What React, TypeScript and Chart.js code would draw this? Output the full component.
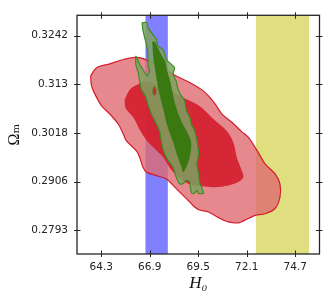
import React, { useEffect, useRef } from "react";
import { Chart, registerables } from "chart.js";

Chart.register(...registerables);

// ---- axis ranges and ticks ----
const H0_MIN = 63;
const H0_MAX = 76;
const OM_MIN = 0.2738;
const OM_MAX = 0.3289;
const xTickValues = [64.3, 66.9, 69.5, 72.1, 74.7];
const xTickLabels = ["64.3", "66.9", "69.5", "72.1", "74.7"];
const yTickValues = [0.2793, 0.29053, 0.30175, 0.31298, 0.3242];
const yTickLabels = ["0.2793", "0.2906", "0.3018", "0.313", "0.3242"];

// ---- H0 bands ----
const planckBand = [66.67, 67.87];
const shoesBand = [72.59, 75.44];

// ---- red contours ----
const redOuterH = [63.73, 64.05, 64.76, 65.48, 66.1, 66.54, 67.2, 67.74, 68.32, 69.04, 69.66, 70.05, 70.41, 70.77, 71.3, 71.84, 72.19, 72.72, 73.08, 73.62, 73.88, 73.88, 73.62, 73.08, 72.55, 72.19, 71.65, 71.12, 70.59, 70.05, 69.52, 69.22, 68.86, 68.32, 67.79, 67.26, 66.72, 66.54, 66.36, 66.19, 65.65, 65.48, 65.21, 64.76, 64.32, 63.96, 63.78];
const redOuterOm = [0.3149, 0.3168, 0.3177, 0.3187, 0.3192, 0.3189, 0.3176, 0.3163, 0.3149, 0.3134, 0.3118, 0.3103, 0.3084, 0.3061, 0.3042, 0.302, 0.3007, 0.2972, 0.2946, 0.2923, 0.29, 0.2869, 0.2843, 0.2831, 0.2827, 0.282, 0.281, 0.2812, 0.2822, 0.2835, 0.284, 0.285, 0.2866, 0.2889, 0.2911, 0.2919, 0.2927, 0.2938, 0.2961, 0.2976, 0.2999, 0.3015, 0.3038, 0.3061, 0.308, 0.3107, 0.3126];
const redInnerH = [65.56, 65.83, 66.28, 66.67, 67.2, 67.74, 68.54, 69.07, 69.66, 70.3, 71.03, 71.39, 71.57, 71.84, 71.92, 71.65, 71.12, 70.41, 69.87, 69.07, 68.54, 68.0, 67.65, 67.29, 66.76, 66.4, 66.04, 65.6];
const redInnerOm = [0.3095, 0.3118, 0.313, 0.3137, 0.313, 0.3121, 0.3102, 0.3091, 0.3077, 0.305, 0.3022, 0.2995, 0.2961, 0.293, 0.2915, 0.2904, 0.2896, 0.2892, 0.2894, 0.2898, 0.2912, 0.2935, 0.296, 0.2976, 0.2999, 0.3022, 0.3052, 0.3075];

// ---- green contours ----
const greenOuterH = [66.49, 66.76, 66.81, 67.08, 67.26, 67.35, 67.61, 67.79, 68.06, 68.23, 68.15, 68.32, 68.42, 68.59, 68.77, 68.86, 69.04, 69.13, 69.3, 69.43, 69.52, 69.43, 69.52, 69.57, 69.7, 69.78, 69.52, 69.43, 69.29, 69.16, 69.07, 69.04, 68.86, 68.68, 68.5, 68.32, 68.15, 67.79, 67.61, 67.52, 67.43, 67.26, 66.99, 66.8, 66.67, 66.45, 66.36, 66.28, 66.15, 66.16, 66.36, 66.63, 66.77, 66.88, 66.81, 66.8, 66.74, 66.63, 66.53];
const greenOuterOm = [0.3272, 0.3272, 0.326, 0.3244, 0.3233, 0.3218, 0.321, 0.3187, 0.3176, 0.3168, 0.3153, 0.3137, 0.3118, 0.3103, 0.3092, 0.3069, 0.3054, 0.3038, 0.3023, 0.2999, 0.2969, 0.2946, 0.2923, 0.2904, 0.2889, 0.2878, 0.2878, 0.2885, 0.2878, 0.2878, 0.2892, 0.2905, 0.2908, 0.29, 0.29, 0.2915, 0.2938, 0.2961, 0.298, 0.2999, 0.3022, 0.3038, 0.3061, 0.3084, 0.3102, 0.3118, 0.3137, 0.3157, 0.3176, 0.3195, 0.3176, 0.3157, 0.3149, 0.316, 0.3176, 0.3198, 0.3219, 0.3237, 0.3256];
const greenInnerH = [67.03, 67.18, 67.36, 67.58, 67.74, 67.84, 68.0, 68.11, 68.22, 68.38, 68.59, 68.81, 69.07, 69.13, 69.04, 68.86, 68.7, 68.59, 68.38, 68.16, 67.84, 67.65, 67.47, 67.29, 67.2, 67.1];
const greenInnerOm = [0.3228, 0.3228, 0.3212, 0.3194, 0.3182, 0.316, 0.3137, 0.3114, 0.3091, 0.3068, 0.3045, 0.3027, 0.3004, 0.2988, 0.2961, 0.2938, 0.2926, 0.294, 0.2965, 0.2995, 0.3034, 0.3068, 0.3098, 0.3137, 0.316, 0.3189];
const islandH = [67.06, 67.09, 67.15, 67.21, 67.24, 67.21, 67.15, 67.09];
const islandOm = [0.3114, 0.3121, 0.3124, 0.3121, 0.3114, 0.3107, 0.3104, 0.3107];

function closedPolygon(xs: number[], ys: number[]) {
  const pts = xs.map((x, i) => ({ x, y: ys[i] }));
  pts.push({ ...pts[0] });
  return pts;
}

function bandPolygon(band: number[]) {
  return closedPolygon([band[0], band[1], band[1], band[0]], [OM_MIN, OM_MIN, OM_MAX, OM_MAX]);
}

const frameTicksPlugin = {
  id: "frameTicks",
  afterDraw(chart: any) {
    const { ctx, chartArea, scales } = chart;
    const { left, right, top, bottom } = chartArea;
    const xs = scales.x;
    const ys = scales.y;
    ctx.save();
    ctx.strokeStyle = "#262626";
    ctx.lineWidth = 1.3;
    ctx.strokeRect(left, top, right - left, bottom - top);
    ctx.lineWidth = 1;
    ctx.beginPath();
    const tin = 3.5;
    const tout = 3;
    for (const v of xTickValues) {
      const p = Math.round(xs.getPixelForValue(v)) + 0.5;
      ctx.moveTo(p, bottom - tin);
      ctx.lineTo(p, bottom + tout);
      ctx.moveTo(p, top - tout);
      ctx.lineTo(p, top + tin);
    }
    for (const v of yTickValues) {
      const p = Math.round(ys.getPixelForValue(v)) + 0.5;
      ctx.moveTo(left - tout, p);
      ctx.lineTo(left + tin, p);
      ctx.moveTo(right - tin, p);
      ctx.lineTo(right + tout, p);
    }
    ctx.stroke();
    ctx.restore();
  },
};

const tickFont = { family: "'DejaVu Sans', sans-serif", size: 10.5 };

export default function App() {
  const canvasRef = useRef<HTMLCanvasElement | null>(null);

  useEffect(() => {
    const canvas = canvasRef.current;
    if (!canvas) return;
    const base = { showLine: true, pointRadius: 0, pointHoverRadius: 0, fill: "shape" };
    const chart = new Chart(canvas, {
      type: "scatter",
      data: {
        datasets: [
          { ...base, label: "Planck", data: bandPolygon(planckBand), backgroundColor: "rgba(0,0,255,0.5)", borderWidth: 0, borderColor: "rgba(0,0,0,0)", tension: 0, order: 10 },
          { ...base, label: "SH0ES", data: bandPolygon(shoesBand), backgroundColor: "rgba(191,191,0,0.5)", borderWidth: 0, borderColor: "rgba(0,0,0,0)", tension: 0, order: 10 },
          { ...base, label: "red 2σ", data: closedPolygon(redOuterH, redOuterOm), backgroundColor: "rgba(222,107,114,0.8)", borderColor: "rgb(212,28,42)", borderWidth: 1.2, tension: 0.3, order: 9 },
          { ...base, label: "red 1σ", data: closedPolygon(redInnerH, redInnerOm), backgroundColor: "rgba(212,29,46,0.9)", borderColor: "rgba(0,0,0,0)", borderWidth: 0, tension: 0.3, order: 8 },
          { ...base, label: "green 2σ", data: closedPolygon(greenOuterH, greenOuterOm), backgroundColor: "rgba(126,162,96,0.85)", borderColor: "rgb(62,142,32)", borderWidth: 1.2, tension: 0.2, order: 7 },
          { ...base, label: "green 1σ", data: closedPolygon(greenInnerH, greenInnerOm), backgroundColor: "rgb(58,120,16)", borderColor: "rgba(0,0,0,0)", borderWidth: 0, tension: 0.2, order: 6 },
          { ...base, label: "island", data: closedPolygon(islandH, islandOm), backgroundColor: "rgb(205,40,50)", borderColor: "rgb(62,142,32)", borderWidth: 1, tension: 0.3, order: 5 },
        ],
      },
      options: {
        responsive: false,
        animation: false,
        events: [],
        layout: { padding: { top: 13, right: 12.5, left: 0, bottom: 0 } },
        plugins: { legend: { display: false }, tooltip: { enabled: false } },
        scales: {
          x: {
            type: "linear",
            min: H0_MIN,
            max: H0_MAX,
            afterFit: (s: any) => { s.height = 51; },
            afterBuildTicks: (s: any) => { s.ticks = xTickValues.map((v) => ({ value: v })); },
            ticks: {
              callback: (_v: any, i: number) => xTickLabels[i],
              font: tickFont,
              color: "#222",
              padding: 7,
              maxRotation: 0,
              autoSkip: false,
            },
            grid: { display: false, drawTicks: false },
            border: { display: false },
            title: {
              display: true,
              text: "H₀",
              color: "#111",
              font: { family: "'Liberation Serif', 'DejaVu Serif', serif", size: 17, style: "italic" },
              padding: { top: 0, bottom: 11 },
            },
          },
          y: {
            type: "linear",
            min: OM_MIN,
            max: OM_MAX,
            afterFit: (s: any) => { s.width = 77; },
            afterBuildTicks: (s: any) => { s.ticks = yTickValues.map((v) => ({ value: v })); },
            ticks: {
              callback: (_v: any, i: number) => yTickLabels[i],
              font: tickFont,
              color: "#222",
              padding: 9,
              autoSkip: false,
            },
            grid: { display: false, drawTicks: false },
            border: { display: false },
            title: {
              display: true,
              text: "Ωₘ",
              color: "#111",
              font: { family: "'Liberation Serif', 'DejaVu Serif', serif", size: 16 },
              padding: { top: 5, bottom: 0 },
            },
          },
        },
      } as any,
      plugins: [frameTicksPlugin],
    } as any);
    return () => chart.destroy();
  }, []);

  return (
    <div style={{ position: "absolute", left: 0, top: 0, width: 332, height: 305 }}>
      <canvas ref={canvasRef} width={332} height={305} />
    </div>
  );
}
